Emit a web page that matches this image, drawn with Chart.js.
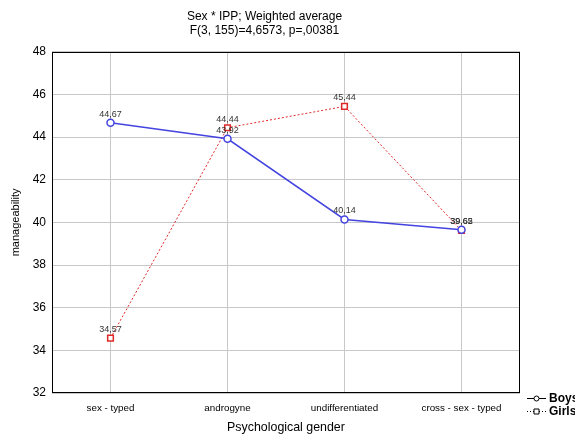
<!DOCTYPE html>
<html>
<head>
<meta charset="utf-8">
<script src="https://cdn.jsdelivr.net/npm/chart.js@4/dist/chart.umd.min.js"></script>
<style>
  html, body { margin: 0; padding: 0; background: #fff; }
  #wrap { width: 575px; height: 435px; }
</style>
</head>
<body>
<div id="wrap"><canvas id="myChart" width="575" height="435"></canvas></div>
<script>
const categories = ['sex - typed', 'androgyne', 'undifferentiated', 'cross - sex - typed'];
const boys = [44.67, 43.92, 40.14, 39.65];
const girls = [34.57, 44.44, 45.44, 39.62];
const yTicks = [32, 34, 36, 38, 40, 42, 44, 46, 48];
const titleLines = ['Sex * IPP; Weighted average', 'F(3, 155)=4,6573, p=,00381'];

const BLUE = '#4444e0';
const RED = '#e02828';

// value labels above each point, decimal comma like the original
const valueLabels = {
  id: 'valueLabels',
  afterDatasetsDraw(chart) {
    const ctx = chart.ctx;
    ctx.save();
    ctx.font = '9px "Liberation Sans", Arial, sans-serif';
    ctx.fillStyle = '#333';
    ctx.textAlign = 'center';
    ctx.textBaseline = 'bottom';
    chart.data.datasets.forEach((ds, i) => {
      chart.getDatasetMeta(i).data.forEach((pt, j) => {
        const txt = ds.data[j].toFixed(2).replace('.', ',');
        ctx.fillText(txt, pt.x, pt.y - 4);
      });
    });
    ctx.restore();
  }
};

// black frame round the plot and the little legend at bottom right
const frameAndLegend = {
  id: 'frameAndLegend',
  afterDraw(chart) {
    const { ctx, chartArea: a } = chart;
    ctx.save();
    ctx.strokeStyle = '#000';
    ctx.lineWidth = 1;
    ctx.strokeRect(Math.round(a.left) + 0.5, Math.round(a.top) + 0.5,
      Math.round(a.right - a.left) - 1, Math.round(a.bottom - a.top) - 1);

    const items = [
      { label: 'Boys', dash: [], shape: 'circle' },
      { label: 'Girls', dash: [1, 2], shape: 'rect' }
    ];
    items.forEach((it, i) => {
      const y = 398 + i * 13;
      ctx.strokeStyle = '#000';
      ctx.lineWidth = 1;
      ctx.setLineDash(it.dash);
      ctx.beginPath();
      ctx.moveTo(527, y + 0.5);
      ctx.lineTo(546, y + 0.5);
      ctx.stroke();
      ctx.setLineDash([]);
      ctx.fillStyle = '#fff';
      ctx.beginPath();
      if (it.shape === 'circle') {
        ctx.arc(536.5, y + 0.5, 2.5, 0, Math.PI * 2);
      } else {
        ctx.rect(534, y - 2, 5, 5);
      }
      ctx.fill();
      ctx.stroke();
      ctx.fillStyle = '#000';
      ctx.font = 'bold 12px "Liberation Sans", Arial, sans-serif';
      ctx.textAlign = 'left';
      ctx.textBaseline = 'middle';
      ctx.fillText(it.label, 549, y + 1);
    });
    ctx.restore();
  }
};

const ctx = document.getElementById('myChart').getContext('2d');
new Chart(ctx, {
  type: 'line',
  data: {
    labels: categories,
    datasets: [
      {
        label: 'Boys',
        data: boys,
        borderColor: BLUE,
        borderWidth: 1.5,
        pointStyle: 'circle',
        pointRadius: 3.5,
        pointBorderWidth: 1.5,
        pointBackgroundColor: '#fff',
        pointBorderColor: BLUE,
        tension: 0
      },
      {
        label: 'Girls',
        data: girls,
        borderColor: RED,
        borderWidth: 1,
        borderDash: [2, 2],
        pointStyle: 'rect',
        pointRadius: 4,
        pointBorderWidth: 1.5,
        pointBackgroundColor: '#fff',
        pointBorderColor: RED,
        tension: 0
      }
    ]
  },
  options: {
    responsive: false,
    animation: false,
    layout: { padding: { left: 9, right: 55, top: 0, bottom: 0 } },
    plugins: {
      legend: { display: false },
      tooltip: { enabled: false },
      title: {
        display: true,
        text: titleLines,
        color: '#000',
        font: { family: '"Liberation Sans", Arial, sans-serif', size: 12, weight: 'normal', lineHeight: 1.2 },
        padding: { top: 9, bottom: 14 }
      }
    },
    scales: {
      x: {
        offset: true,
        grid: { offset: false, color: '#c8c8c8', lineWidth: 1, drawTicks: false },
        border: { display: false },
        ticks: {
          color: '#000',
          padding: 9,
          font: { family: '"Liberation Sans", Arial, sans-serif', size: 9.8 },
          maxRotation: 0
        },
        title: {
          display: true,
          text: 'Psychological gender',
          color: '#000',
          font: { family: '"Liberation Sans", Arial, sans-serif', size: 12.4 },
          padding: { top: 5, bottom: 0 }
        },
        afterFit(scale) { scale.height = 42; }
      },
      y: {
        min: 32,
        max: 48,
        afterBuildTicks(scale) { scale.ticks = yTicks.map(v => ({ value: v })); },
        grid: { color: '#c8c8c8', lineWidth: 1, drawTicks: false },
        border: { display: false },
        ticks: {
          color: '#000',
          padding: 6,
          font: { family: '"Liberation Sans", Arial, sans-serif', size: 12 }
        },
        title: {
          display: true,
          text: 'manageability',
          color: '#000',
          font: { family: '"Liberation Sans", Arial, sans-serif', size: 11 },
          padding: { top: 0, bottom: 4 }
        },
        afterFit(scale) { scale.width = 43; }
      }
    }
  },
  plugins: [valueLabels, frameAndLegend]
});
</script>
</body>
</html>
